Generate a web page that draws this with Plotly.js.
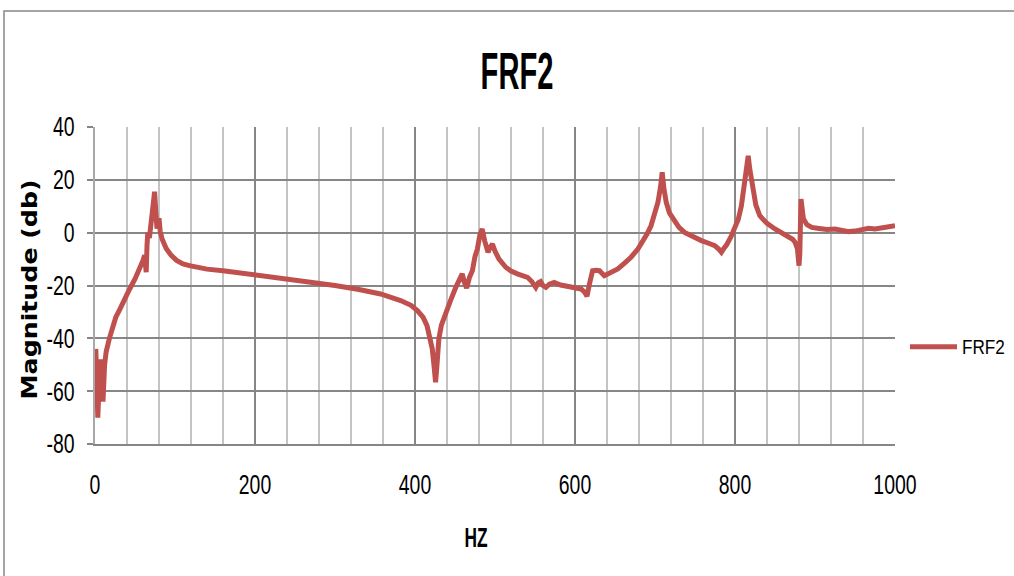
<!DOCTYPE html>
<html>
<head>
<meta charset="utf-8">
<script src="https://cdn.plot.ly/plotly-3.0.1.min.js"></script>
<style>
html,body{margin:0;padding:0;background:#fff;}
#chart{width:1014px;height:576px;}
</style>
</head>
<body>
<div id="chart"></div>
<script>
// Frequency (Hz)
const freqHz = [1,2.5,3.5,5,7,8.5,10,12,14,18,22,26,31,37,43,50,56,60,62,64,65,66,68,70,72,74.5,76,77.5,79,80,81.5,84,89,95,102,110,118,130,140,160,200,231,260,300,330,357,382,395,403,410,415,419,421.6,424,425.7,427.5,429.8,433,438,444,451,455,459,462,464.6,468,471.7,475,478,481,484,487,491.3,494,496.8,500,505,513.5,520,528,535,540.7,546,551,554,557,560,563.6,568,574,582,590.8,600,607.5,612,615,618,622,626,630.5,636.7,645,653.5,662,670,678.6,683,690,695,700,703.7,707,709,711,714,718,722.5,730,737,748,758,767,774.7,780,783,786,789.3,795,799.7,804,808,812,814.5,816.5,818.5,822.8,826,831,840,850,858,866.7,872,875,878,880,881,882.5,884,885.5,890,896,905,915,925,935,942,950,958,967,975,985,995,1000];
// Magnitude (dB)
const magDb = [-44,-62,-70,-58,-48,-56,-64,-50,-45,-40,-35,-32,-29,-25,-21.5,-17.5,-13.7,-10.5,-8.5,-15,-5,0,-2,3,9,15.5,8,1.5,4,5.5,0.5,-2.5,-6,-8.5,-10.5,-11.8,-12.5,-13.3,-13.8,-14.4,-16,-17.2,-18.2,-20,-21.5,-23.2,-25.7,-27.5,-29.5,-32,-35.2,-40,-44,-51,-56.6,-50,-40.2,-35,-31.4,-26,-20.7,-18.5,-15.6,-19,-21,-17,-14.4,-9,-6.2,-1,1.4,-3,-7.4,-5.5,-4.3,-7,-10,-13.1,-14.5,-15.6,-16.5,-16.9,-18.5,-20.7,-19,-18.5,-20,-20.7,-19.5,-18.8,-19.8,-20.3,-20.8,-21.3,-22.5,-24.1,-19.5,-14.4,-14.2,-14.4,-16.3,-15,-13.7,-11.5,-9.3,-6.2,-4.3,-0.5,2.6,7,11.5,17.5,22.9,17,11.5,7.5,5.2,2,0.1,-1.8,-3,-4,-4.9,-6.3,-7.4,-6,-4.7,-1.5,1.4,5,10.2,18,25,29.1,24,15.3,10.5,6.4,3.5,1.4,0,-1.1,-2.5,-3.6,-6,-12.5,-8,12.7,8,5.2,3,2,1.6,1.2,1.4,0.8,0.4,0.6,1.2,1.7,1.4,1.8,2.3,2.6];
const seriesName = "FRF2";
const chartTitle = "FRF2";
const xTitle = "HZ";
const yTitle = "Magnitude (db)";
const xTickVals = [0, 200, 400, 600, 800, 1000];
const xTickText = ["0", "200", "400", "600", "800", "1000"];
const yTickVals = [-80, -60, -40, -20, 0, 20, 40];
const yTickText = ["-80", "-60", "-40", "-20", "0", "20", "40"];

const sans = '"Liberation Sans", Arial, sans-serif';
const grid = '#868686';

const trace = {
  x: freqHz, y: magDb, type: 'scatter', mode: 'lines', name: seriesName,
  line: {color: '#C0504D', width: 5}
};

const L = 95, R = 119, T = 127, B = 132;
const pw = 1014 - L - R, ph = 576 - T - B;
const px = v => (v - L) / pw;
const py = v => (576 - B - v) / ph;

const layout = {
  width: 1014, height: 576,
  margin: {l: L, r: R, t: T, b: B},
  paper_bgcolor: '#fff', plot_bgcolor: '#fff',
  title: {text: chartTitle, font: {family: sans, size: 52, color: '#000', weight: 'bold'},
          xref: 'container', yref: 'container', x: 517/1014, y: 1 - 71/576, xanchor: 'center', yanchor: 'middle'},
  showlegend: true,
  legend: {xref: 'container', yref: 'container', x: 905/1014, y: 1 - 347/576, xanchor: 'left', yanchor: 'middle',
           itemwidth: 47, font: {family: sans, size: 19.5, color: '#000'}, bgcolor: 'rgba(0,0,0,0)'},
  xaxis: {
    range: [0, 1000], tickmode: 'array', tickvals: xTickVals, ticktext: xTickText,
    showgrid: true, gridcolor: grid, gridwidth: 2,
    zeroline: false, showline: true, linecolor: grid, linewidth: 2,
    ticks: '', ticklabelstandoff: 16,
    tickfont: {family: sans, size: 27, color: '#000'},
    minor: {dtick: 40, tick0: 0, showgrid: true, gridcolor: '#c4c4c4', gridwidth: 1.5},
    title: {text: xTitle, font: {family: sans, size: 28, color: '#000', weight: 'bold'}, standoff: 28}
  },
  yaxis: {
    range: [-80, 40], tickmode: 'array', tickvals: yTickVals, ticktext: yTickText,
    showgrid: true, gridcolor: grid, gridwidth: 2,
    zeroline: false, showline: true, linecolor: '#a8a8a8', linewidth: 2,
    ticks: 'outside', ticklen: 6, tickcolor: grid, tickwidth: 2, ticklabelstandoff: 7,
    tickfont: {family: sans, size: 27, color: '#000'},
    title: {text: yTitle, font: {family: '"DejaVu Sans", sans-serif', size: 21, color: '#000', weight: 'bold'}, standoff: 0}
  },
  shapes: [{type: 'path', xref: 'paper', yref: 'paper',
            path: 'M' + px(4) + ',' + py(640) + ' L' + px(4) + ',' + py(11) + ' L' + px(1080) + ',' + py(11),
            line: {color: '#868686', width: 1.5}, layer: 'below'}]
};

// condense text glyphs (the reference uses a narrow, tall typeface)
function squeeze(sel, factor) {
  document.querySelectorAll(sel).forEach(t => {
    const w = t.getComputedTextLength();
    if (w > 0) {
      t.setAttribute('textLength', (w * factor).toFixed(1));
      t.setAttribute('lengthAdjust', 'spacingAndGlyphs');
    }
  });
}
function shift(sel, dx, dy) {
  document.querySelectorAll(sel).forEach(g => {
    const prev = g.getAttribute('transform') || '';
    g.setAttribute('transform', 'translate(' + dx + ',' + dy + ') ' + prev);
  });
}

Plotly.newPlot('chart', [trace], layout, {displayModeBar: false, staticPlot: true}).then(() => {
  squeeze('#chart .gtitle', 0.56);
  squeeze('#chart .xtick text', 0.72);
  squeeze('#chart .ytick text', 0.72);
  squeeze('#chart .g-xtitle text', 0.62);
  squeeze('#chart .legendtext', 0.88);
  document.querySelectorAll('#chart .g-ytitle text').forEach(t => {
    t.setAttribute('textLength', '220');
    t.setAttribute('lengthAdjust', 'spacingAndGlyphs');
  });
  shift('#chart .g-ytitle', 8, 4);
  shift('#chart .g-xtitle', -19, 0);
  document.querySelectorAll('#chart .legend [clip-path]').forEach(el => el.removeAttribute('clip-path'));
});
</script>
</body>
</html>
